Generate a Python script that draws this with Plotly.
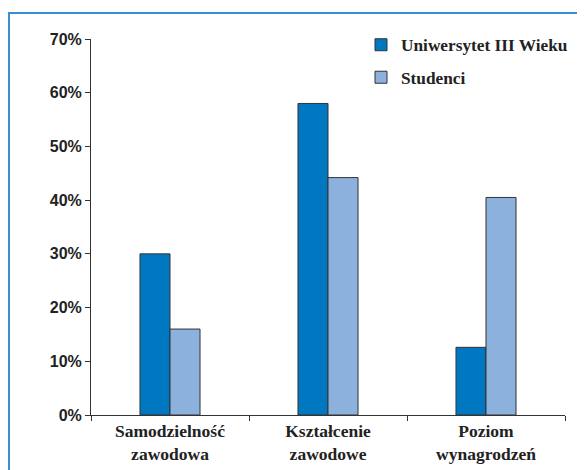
import plotly.graph_objects as go

categories = ["Samodzielność<br>zawodowa", "Kształcenie<br>zawodowe", "Poziom<br>wynagrodzeń"]
series_names = ["Uniwersytet III Wieku", "Studenci"]
u3w_values = [30.0, 58.0, 12.6]
studenci_values = [16.0, 44.2, 40.5]
y_ticks = [0, 10, 20, 30, 40, 50, 60, 70]
y_tick_labels = [f"{v}%" for v in y_ticks]

colors = ["#0078C1", "#8DB1DD"]
serif = "'Liberation Serif', 'Times New Roman', 'DejaVu Serif', serif"
sans = "'Liberation Sans', Arial, 'DejaVu Sans', sans-serif"
text_color = "#222222"

fig = go.Figure()
for i, (name, vals, col) in enumerate(zip(series_names, [u3w_values, studenci_values], colors)):
    fig.add_trace(go.Bar(
        x=categories, y=vals, name=name, legendgroup=f"g{i}",
        marker=dict(color=col, line=dict(color="#333333", width=1)),
    ))

# page has an 8px body margin; figure is sized to fit the visible window
OFF = 8
W, H = 585 - OFF, 470 - OFF
L, R, T, B = 91 - OFF, 20, 39 - OFF, 55
pw, ph = W - L - R, H - T - B

def px_x(x):
    return (x - OFF - L) / pw

def px_y(y):
    return (H - B - (y - OFF)) / ph

fig.update_layout(
    width=W, height=H,
    margin=dict(l=L, r=R, t=T, b=B, autoexpand=False),
    paper_bgcolor="white", plot_bgcolor="white",
    barmode="group", bargap=0.62, bargroupgap=0,
    font=dict(family=serif, size=17, color=text_color, weight="bold"),
    showlegend=True,
    legend=dict(
        x=px_x(361), y=px_y(27), xanchor="left", yanchor="top",
        bgcolor="rgba(0,0,0,0)",
        font=dict(size=17.3, family=serif, color=text_color, weight="bold"),
        traceorder="grouped", itemwidth=30, tracegroupgap=7,
    ),
    xaxis=dict(
        type="category", showline=True, linecolor="#333333", linewidth=1,
        ticks="outside", tickson="boundaries", ticklen=5, tickcolor="#333333",
        showgrid=False, automargin=False,
        tickfont=dict(size=17.5, family=serif, color=text_color, weight="bold"),
    ),
    yaxis=dict(
        range=[0, 70], tickvals=y_ticks, ticktext=y_tick_labels,
        showline=True, linecolor="#333333", linewidth=1,
        ticks="outside", ticklen=5, tickcolor="#333333",
        showgrid=False, zeroline=False, automargin=False,
        tickfont=dict(size=16, family=sans, color=text_color, weight="bold"),
    ),
    shapes=[dict(
        type="rect", xref="paper", yref="paper",
        x0=px_x(9), x1=px_x(600), y0=px_y(480), y1=px_y(13),
        line=dict(color="#3A8FD4", width=2), fillcolor="rgba(0,0,0,0)", layer="below",
    )],
)

fig.write_html("out.html")
